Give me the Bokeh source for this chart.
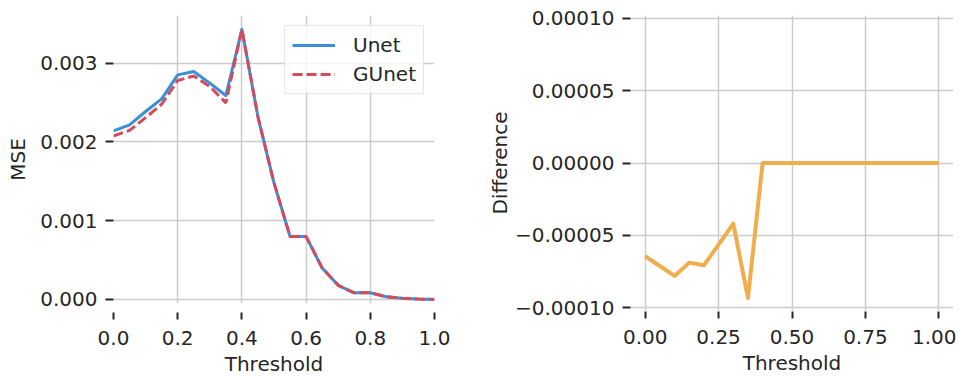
from bokeh.plotting import figure
from bokeh.layouts import row
from bokeh.models import FixedTicker, CustomJSTickFormatter, Range1d, ColumnDataSource
from bokeh.embed import file_html
from bokeh.resources import INLINE

# ---- data ----
threshold = [0.0, 0.05, 0.10, 0.15, 0.20, 0.25, 0.30, 0.35, 0.40, 0.45, 0.50,
             0.55, 0.60, 0.65, 0.70, 0.75, 0.80, 0.85, 0.90, 0.95, 1.00]
unet = [0.002141, 0.002218, 0.002387, 0.002548, 0.002852, 0.002895, 0.002747,
        0.002590, 0.003430, 0.002320, 0.001480, 0.000800, 0.000800, 0.000400,
        0.000180, 0.000085, 0.000085, 0.000035, 0.000015, 0.000005, 0.000000]
gunet = [0.0020765, 0.0021468, 0.0023089, 0.0024791, 0.0027813, 0.0028385, 0.0027051,
         0.0024967, 0.003430, 0.002320, 0.001480, 0.000800, 0.000800, 0.000400,
         0.000180, 0.000085, 0.000085, 0.000035, 0.000015, 0.000005, 0.000000]
difference = [-0.0000645, -0.0000712, -0.0000781, -0.0000689, -0.0000707, -0.0000565,
              -0.0000419, -0.0000933, 0.0, 0.0, 0.0, 0.0, 0.0, 0.0, 0.0, 0.0,
              0.0, 0.0, 0.0, 0.0, 0.0]

mse_ticks = [0.0, 0.001, 0.002, 0.003]
mse_tick_labels = ["0.000", "0.001", "0.002", "0.003"]
left_x_ticks = [0.0, 0.2, 0.4, 0.6, 0.8, 1.0]
left_x_tick_labels = ["0.0", "0.2", "0.4", "0.6", "0.8", "1.0"]
diff_ticks = [-0.0001, -0.00005, 0.0, 0.00005, 0.0001]
diff_tick_labels = ["\u22120.00010", "\u22120.00005", "0.00000", "0.00005", "0.00010"]
right_x_ticks = [0.0, 0.25, 0.5, 0.75, 1.0]
right_x_tick_labels = ["0.00", "0.25", "0.50", "0.75", "1.00"]

series_names = ["Unet", "GUnet"]

BLUE = "#3a8fd8"
RED = "#d44b5b"
ORANGE = "#f0ad4e"
TEXT = "#262626"
GRID = "#cccccc"
FONT = "DejaVu Sans"
FS = "20px"


def fmt(tvals, tlabels):
    return CustomJSTickFormatter(args=dict(tvals=tvals, tlabels=tlabels), code="""
let best = 0, d = Infinity;
for (let i = 0; i < tvals.length; i++) {
  const e = Math.abs(tvals[i] - tick);
  if (e < d) { d = e; best = i; }
}
return tlabels[best];
""")


def style(p, xt, xl, yt, yl, xlabel, ylabel, x_tin, x_tout, ylab_standoff):
    p.outline_line_color = None
    p.background_fill_color = "white"
    p.border_fill_color = "white"
    for g in (p.xgrid, p.ygrid):
        g.grid_line_color = GRID
        g.grid_line_width = 1.5
    p.xaxis.ticker = FixedTicker(ticks=xt)
    p.xaxis.formatter = fmt(xt, xl)
    p.yaxis.ticker = FixedTicker(ticks=yt)
    p.yaxis.formatter = fmt(yt, yl)
    for ax in (p.xaxis[0], p.yaxis[0]):
        ax.axis_line_color = None
        ax.minor_tick_line_color = None
        ax.major_tick_line_color = TEXT
        ax.major_tick_line_width = 2
        ax.major_label_text_font = FONT
        ax.major_label_text_font_size = FS
        ax.major_label_text_color = TEXT
        ax.axis_label_text_font = FONT
        ax.axis_label_text_font_size = FS
        ax.axis_label_text_font_style = "normal"
        ax.axis_label_text_color = TEXT
    xa = p.xaxis[0]
    xa.axis_label = xlabel
    xa.major_tick_in = x_tin
    xa.major_tick_out = x_tout
    xa.major_label_standoff = 11
    xa.axis_label_standoff = 4
    ya = p.yaxis[0]
    ya.axis_label = ylabel
    ya.major_tick_in = 0
    ya.major_tick_out = 8
    ya.major_label_standoff = 8
    ya.axis_label_standoff = ylab_standoff


src = ColumnDataSource(data=dict(threshold=threshold, unet=unet, gunet=gunet,
                                 difference=difference))

# ---- left panel ----
p1 = figure(frame_width=321, frame_height=288,
            min_border_left=113, min_border_right=44,
            min_border_top=14, min_border_bottom=0,
            x_range=Range1d(0.0, 1.0), y_range=Range1d(-0.0000508, 0.003606),
            output_backend="svg", toolbar_location=None)
style(p1, left_x_ticks, left_x_tick_labels, mse_ticks, mse_tick_labels,
      "Threshold", "MSE", -9, 16, 7)
p1.line("threshold", "unet", source=src, line_color=BLUE, line_width=3,
        line_join="round", legend_label=series_names[0])
p1.line("threshold", "gunet", source=src, line_color=RED, line_width=3,
        line_dash="10 4", legend_label=series_names[1])

lg = p1.legend[0]
lg.location = "top_right"
lg.margin = 10
lg.padding = 7
lg.spacing = 5
lg.glyph_width = 43
lg.glyph_height = 22
lg.label_height = 22
lg.label_standoff = 18
lg.label_text_font = FONT
lg.label_text_font_size = FS
lg.label_text_color = TEXT
lg.border_line_color = GRID
lg.border_line_width = 1.5
lg.background_fill_color = "white"
lg.background_fill_alpha = 0.8

# ---- right panel ----
p2 = figure(frame_width=323, frame_height=295,
            min_border_left=152, min_border_right=3,
            min_border_top=15, min_border_bottom=0,
            x_range=Range1d(-0.05, 1.05), y_range=Range1d(-0.000102, 0.000102),
            output_backend="svg", toolbar_location=None)
style(p2, right_x_ticks, right_x_tick_labels, diff_ticks, diff_tick_labels,
      "Threshold", "Difference", -1, 8, 0)
p2.line("threshold", "difference", source=src, line_color=ORANGE, line_width=4,
        line_join="round")

layout = row(p1, p2)
open("out.html", "w").write(file_html(layout, INLINE))
